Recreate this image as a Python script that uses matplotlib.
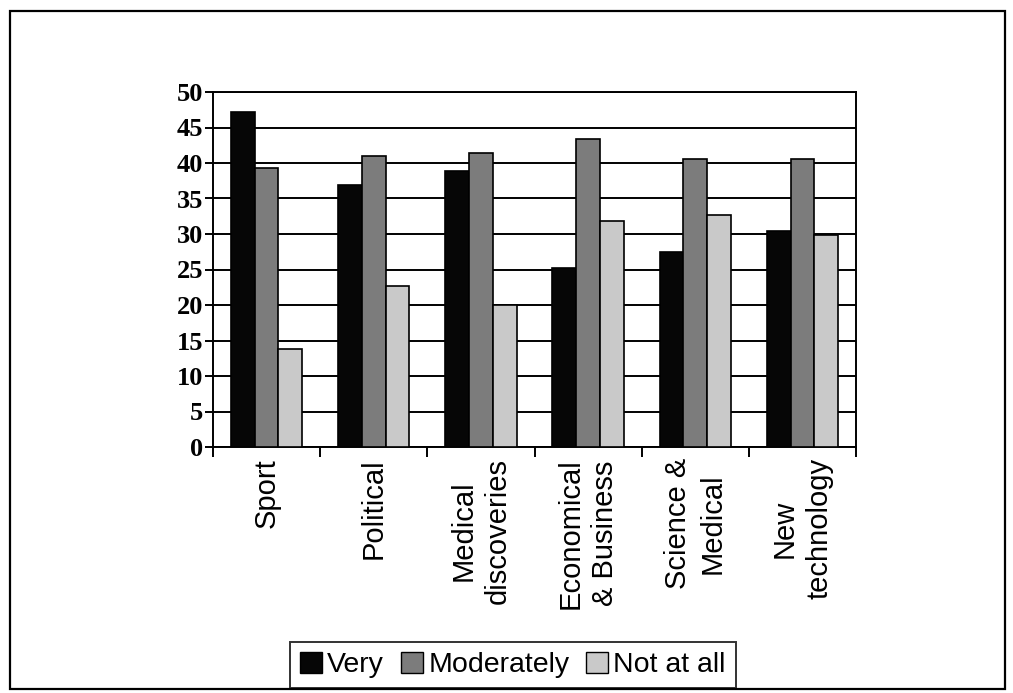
import matplotlib.pyplot as plt
import numpy as np
from matplotlib.patches import Patch, Rectangle

categories = ['Sport', 'Political', 'Medical\ndiscoveries', 'Economical\n& Business',
              'Science &\nMedical', 'New\ntechnology']
very = [47.2, 36.9, 38.9, 25.2, 27.4, 30.4]
moderately = [39.3, 41.0, 41.4, 43.4, 40.6, 40.6]
not_at_all = [13.8, 22.7, 20.0, 31.8, 32.7, 29.9]
series_names = ['Very', 'Moderately', 'Not at all']
colors = ['#060606', '#7c7c7c', '#c9c9c9']

fig = plt.figure(figsize=(10.13, 6.93), dpi=100)
ax = fig.add_axes([213 / 1013, 1 - 447 / 693, (856 - 213) / 1013, (447 - 92) / 693])

x = np.arange(len(categories))
w = 0.222
for i, (vals, c) in enumerate(zip([very, moderately, not_at_all], colors)):
    ax.bar(x + (i - 1) * w, vals, width=w, color=c, edgecolor='black',
           linewidth=1.2, zorder=3)

ax.set_xlim(-0.5, len(categories) - 0.5)
ax.set_ylim(0, 50)
ax.set_yticks(np.arange(0, 51, 5))
ax.yaxis.grid(True, color='black', linewidth=1.4, zorder=0)
ax.set_axisbelow(True)
for s in ax.spines.values():
    s.set_linewidth(1.4)

ax.set_xticks(x)
ax.set_xticklabels(categories, rotation=90, fontsize=21,
                   family='Liberation Sans', multialignment='center',
                   linespacing=1.3)
ax.set_xticks(np.arange(-0.5, len(categories), 1), minor=True)
ax.tick_params(axis='x', which='major', length=0, pad=8)
ax.tick_params(axis='x', which='minor', length=7, width=1.4, direction='out')
ax.tick_params(axis='y', length=6, width=1.4, direction='out', pad=1)
for lab in ax.get_yticklabels():
    lab.set_family('Liberation Serif')
    lab.set_fontweight('bold')
    lab.set_fontsize(19)

handles = [Patch(facecolor=c, edgecolor='black', linewidth=1) for c in colors]
leg = fig.legend(handles, series_names, loc='lower center',
                 bbox_to_anchor=(513 / 1013, 1 - 688 / 693), ncol=3,
                 prop={'family': 'Liberation Sans', 'size': 20.5},
                 frameon=True, fancybox=False, edgecolor='black',
                 handlelength=0.75, handleheight=0.75, handletextpad=0.2,
                 columnspacing=0.6, borderpad=0.35, borderaxespad=0)
leg.get_frame().set_linewidth(1.4)

fig.patches.append(Rectangle((10 / 1013, 1 - 689 / 693), 995 / 1013, 678 / 693,
                             transform=fig.transFigure, fill=False,
                             edgecolor='black', linewidth=1.6))

fig.savefig('out.png', dpi=100)
